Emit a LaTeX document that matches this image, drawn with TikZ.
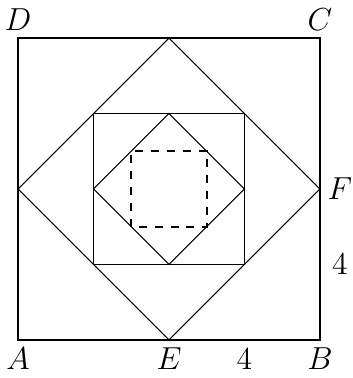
\documentclass[tikz,border=0pt]{standalone}
\usepackage{tikz}
\usetikzlibrary{calc}

\begin{document}
\begin{tikzpicture}[
    x=0.5cm, y=0.5cm,
    lbl/.style={font=\large},
    side/.style={thin, black},
    inner/.style={thick, dashed}
]
\useasboundingbox (-0.477,-1.007) rectangle (8.874,9.007);

% Corners and midpoints
\coordinate (A) at (0,0);
\coordinate (B) at (8,0);
\coordinate (C) at (8,8);
\coordinate (D) at (0,8);
\coordinate (E) at (4,0);
\coordinate (F) at (8,4);
\coordinate (G) at (4,8);
\coordinate (H) at (0,4);

% Outer square and first diamond
\draw[side] (A) -- (B) -- (C) -- (D) -- cycle;
\draw[side] (E) -- (F) -- (G) -- (H) -- cycle;

% Middle square and second diamond
\draw[side] (2,2) rectangle (6,6);
\draw[side] (4,2) -- (6,4) -- (4,6) -- (2,4) -- cycle;

% Dashed square
\draw[inner] (3,3) rectangle (5,5);

% Labels
\node[lbl] (labelD) at (0,8.5) {$D$};
\node[lbl] (labelC) at (8,8.5) {$C$};
\node[lbl] (labelA) at (0,-0.5) {$A$};
\node[lbl] (labelE) at (4,-0.5) {$E$};
\node[lbl] (labelB) at (8,-0.5) {$B$};
\node[lbl] (labelF) at (8.53,4) {$F$};
\node[lbl] (lenEB) at (6,-0.5) {$4$};
\node[lbl] (lenBF) at (8.53,2) {$4$};
\end{tikzpicture}
\end{document}
